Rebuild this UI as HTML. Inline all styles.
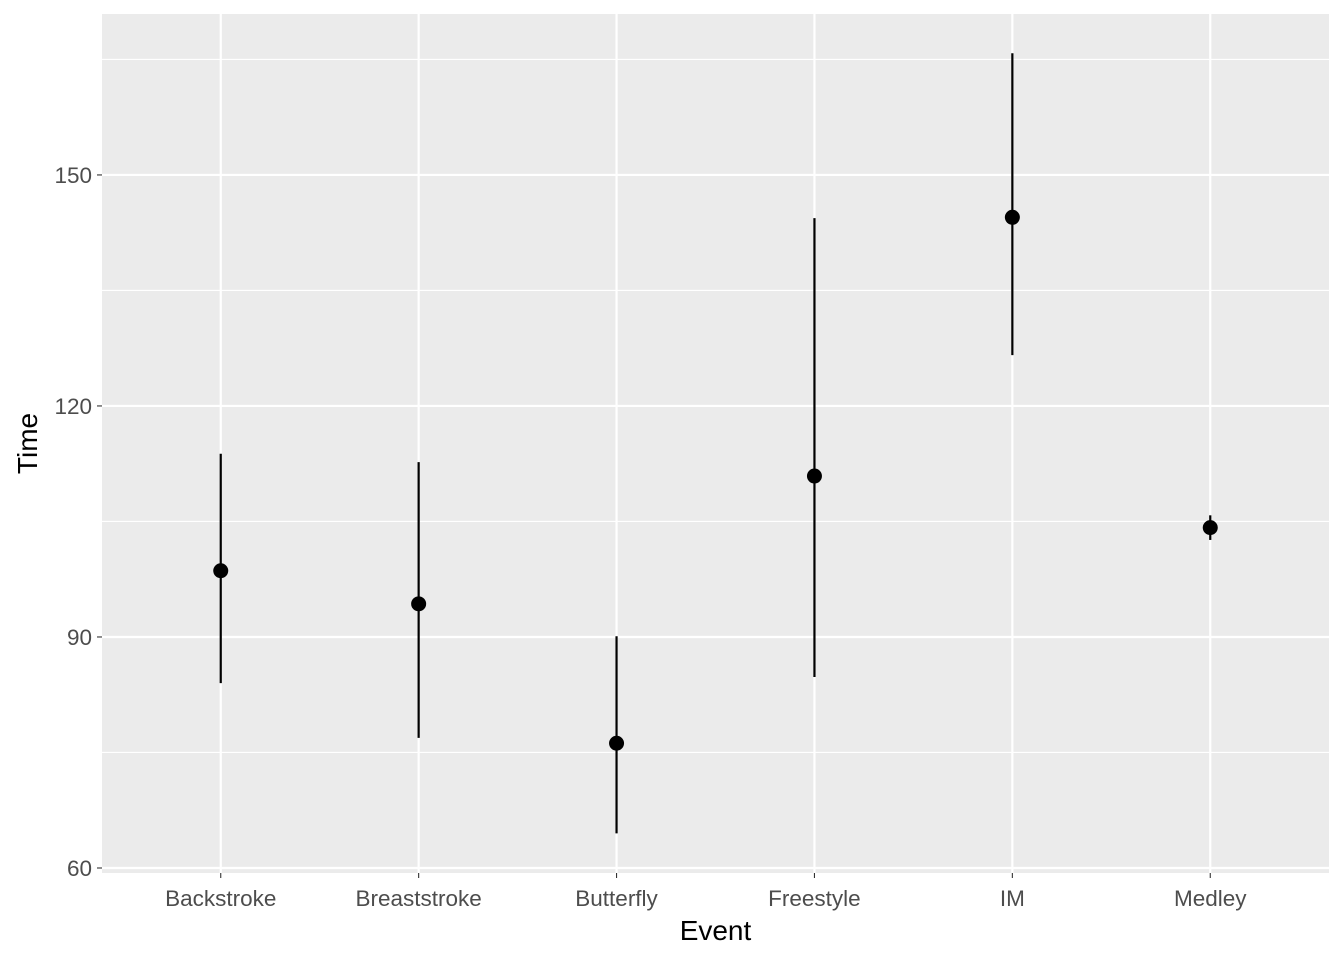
<!DOCTYPE html>
<html><head><meta charset="utf-8"><style>
body{margin:0;background:#fff;}
svg{display:block;font-family:"Liberation Sans",Arial,sans-serif;}
</style></head><body>
<svg id="chart" width="1344" height="960"></svg>
<script>
const categories=["Backstroke","Breaststroke","Butterfly","Freestyle","IM","Medley"];
const means=[98.6,94.3,76.2,110.9,144.5,104.2];
const upper=[113.8,112.7,90.1,144.4,165.8,105.8];
const lower=[84.0,76.9,64.5,84.8,126.6,102.6];
const majorTicks=[60,90,120,150];
const minorTicks=[75,105,135,165];
const NS="http://www.w3.org/2000/svg";
const svg=document.getElementById("chart");
const L=102,R=1329,T=14,B=873;
const yMin=59.35,yMax=170.9;
function y(v){return B-(v-yMin)/(yMax-yMin)*(B-T);}
function x(i){return L+(i+0.6)/(categories.length+0.2)*(R-L);}
function mk(tag,attrs,name){const e=document.createElementNS(NS,tag);for(const k in attrs)e.setAttribute(k,attrs[k]);


svg.appendChild(e);return e;}
mk("rect",{x:L,y:T,width:R-L,height:B-T,fill:"#ebebeb"},"panel-background");
minorTicks.forEach(v=>mk("line",{x1:L,x2:R,y1:y(v),y2:y(v),stroke:"#fff","stroke-width":1.1},"minor-gridline"));
majorTicks.forEach(v=>{mk("line",{x1:L,x2:R,y1:y(v),y2:y(v),stroke:"#fff","stroke-width":2.2},"major-gridline");
mk("line",{x1:L-5,x2:L,y1:y(v),y2:y(v),stroke:"#333","stroke-width":1.1},"y-tick");
const t=mk("text",{x:L-10,y:y(v)+8,"text-anchor":"end","font-size":22.5,fill:"#4d4d4d"},"y-tick-label");t.textContent=v;});
categories.forEach((c,i)=>{mk("line",{x1:x(i),x2:x(i),y1:T,y2:B,stroke:"#fff","stroke-width":2.2},"x-gridline");
mk("line",{x1:x(i),x2:x(i),y1:B,y2:B+5,stroke:"#333","stroke-width":1.1},"x-tick");
const t=mk("text",{x:x(i),y:B+33,"text-anchor":"middle","font-size":22.5,fill:"#4d4d4d"},"x-tick-label");t.textContent=c;});
categories.forEach((c,i)=>{
mk("line",{x1:x(i),x2:x(i),y1:y(upper[i]),y2:y(lower[i]),stroke:"#000","stroke-width":2.2},"error-bar-"+c.toLowerCase());
mk("circle",{cx:x(i),cy:y(means[i]),r:7.5,fill:"#000"},"mean-point-"+c.toLowerCase());});
const xt=mk("text",{x:(L+R)/2,y:940,"text-anchor":"middle","font-size":28,fill:"#000"},"x-axis-title");xt.textContent="Event";
const yt=mk("text",{x:37,y:(T+B)/2,"text-anchor":"middle","font-size":28,fill:"#000",transform:`rotate(-90 37 ${(T+B)/2})`},"y-axis-title");yt.textContent="Time";
</script>
</body></html>
